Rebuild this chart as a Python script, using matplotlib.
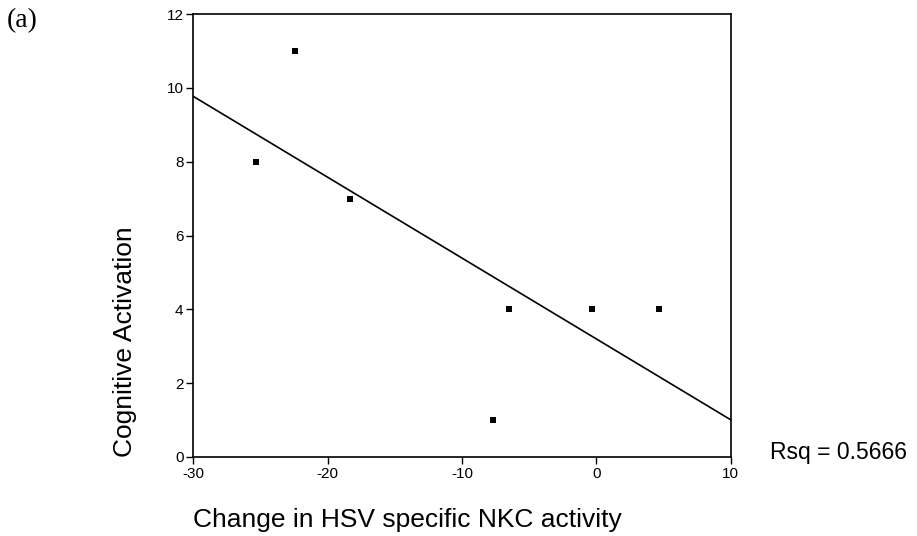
import numpy as np
import matplotlib
matplotlib.use("Agg")
import matplotlib.pyplot as plt

# Change in HSV-specific NKC activity vs cognitive activation
nkc_change = [-25.3, -22.4, -18.3, -7.7, -6.5, -0.3, 4.7]
cognitive_activation = [8, 11, 7, 1, 4, 4, 4]
x_ticks = [-30, -20, -10, 0, 10]
y_ticks = [0, 2, 4, 6, 8, 10, 12]
rsq_label = "Rsq = 0.5666"

plt.rcParams["font.family"] = ["Liberation Sans", "DejaVu Sans"]
plt.rcParams["axes.unicode_minus"] = False

W, H = 917, 536
fig = plt.figure(figsize=(W / 100, H / 100), dpi=100)
ax = fig.add_axes([193.3 / W, 1 - 457 / H, (730.5 - 193.3) / W, (457 - 14) / H])

ax.scatter(nkc_change, cognitive_activation, marker="s", s=24, color="black",
           linewidths=0, zorder=3)

# least-squares fit line across the full x range
slope, intercept = np.polyfit(nkc_change, cognitive_activation, 1)
xs = np.array([x_ticks[0], x_ticks[-1]])
ax.plot(xs, slope * xs + intercept, color="black", linewidth=1.2)

ax.set_xlim(x_ticks[0], x_ticks[-1])
ax.set_ylim(y_ticks[0], y_ticks[-1])
ax.set_xticks(x_ticks)
ax.set_yticks(y_ticks)
ax.tick_params(axis="x", direction="out", length=5, width=1, labelsize=11, pad=2)
ax.tick_params(axis="y", direction="out", length=5, width=1, labelsize=11, pad=2)
for s in ax.spines.values():
    s.set_linewidth(1.2)

fig.text(193 / W, 1 - 527 / H, "Change in HSV specific NKC activity",
         fontsize=19, ha="left", va="baseline")
fig.text(125 / W, 1 - 342 / H, "Cognitive Activation", fontsize=19,
         rotation=90, ha="center", va="center")
fig.text(770 / W, 1 - 452 / H, rsq_label, fontsize=16.5, ha="left",
         va="center")
fig.text(7 / W, 1 - 21 / H, "(a)", fontsize=20, ha="left", va="center",
         family=["Liberation Serif", "DejaVu Serif"])

fig.savefig("out.png", dpi=100)
